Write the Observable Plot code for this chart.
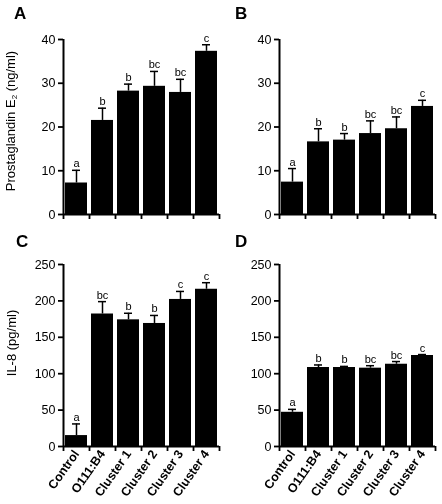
<!DOCTYPE html>
<html>
<head>
<meta charset="utf-8">
<script src="https://cdn.jsdelivr.net/npm/d3@7"></script>
<script src="https://cdn.jsdelivr.net/npm/@observablehq/plot@0.6"></script>
<style>
  html, body { margin: 0; padding: 0; background: white; }
  #root { position: relative; width: 442px; height: 504px; font-family: "Liberation Sans", Arial, sans-serif; color: black; }
  .panel { position: absolute; will-change: transform; }
  .letter { position: absolute; font-weight: bold; font-size: 17px; line-height: 1; }
  .ytitle { position: absolute; font-size: 13px; white-space: nowrap; transform: translate(-50%, -50%) rotate(-90deg); line-height: 1; }
  .ytitle sub { font-size: 8px; vertical-align: -2px; }
</style>
</head>
<body>
<div id="root"></div>
<script>
const categories = ["Control", "O111:B4", "Cluster 1", "Cluster 2", "Cluster 3", "Cluster 4"];

const pgeA = [7.2, 21.5, 28.2, 29.3, 27.9, 37.3];
const pgeAErr = [2.9, 2.8, 1.6, 3.4, 3.0, 1.5];
const pgeALetters = ["a", "b", "b", "bc", "bc", "c"];

const pgeB = [7.4, 16.6, 17.0, 18.5, 19.6, 24.7];
const pgeBErr = [3.1, 3.0, 1.5, 2.9, 2.7, 1.4];
const pgeBLetters = ["a", "b", "b", "bc", "bc", "c"];

const il8C = [15, 182, 174, 169, 202, 216];
const il8CErr = [16, 17, 9, 11, 11, 9];
const il8CLetters = ["a", "bc", "b", "b", "c", "c"];

const il8D = [47, 108.5, 108.5, 107.6, 113, 125];
const il8DErr = [4, 3.5, 1.5, 3.4, 3.7, 1.3];
const il8DLetters = ["a", "b", "b", "bc", "bc", "c"];

const pgeTicks = [0, 10, 20, 30, 40];
const il8Ticks = [0, 50, 100, 150, 200, 250];

function panel({values, errors, letters, yMax, ticks, showX, height, marginTop, marginBottom}) {
  const data = categories.map((c, i) => ({cat: c, value: values[i], top: values[i] + errors[i], letter: letters[i]}));
  const width = 221, marginLeft = 63, marginRight = 2;
  const step = (width - marginLeft - marginRight) / categories.length;
  const frameH = height - marginTop - marginBottom;
  const marks = [
    Plot.barY(data, {x: "cat", y: "value", fill: "black"}),
    Plot.ruleX(data, {x: "cat", y1: "value", y2: "top", stroke: "black", strokeWidth: 1.5}),
    Plot.tickY(data, {x: "cat", y: "top", insetLeft: 7, insetRight: 7, stroke: "black", strokeWidth: 1.5}),
    Plot.text(data, {x: "cat", y: "top", text: "letter", lineAnchor: "bottom", dy: -3, fontSize: 11, fill: "black"}),
    Plot.axisY({ticks, tickSize: 5, tickPadding: 3, fontSize: 12.5, strokeWidth: 1.8, fill: "black", label: null}),
    Plot.ruleX([categories[0]], {x: d => d, dx: -step / 2, y1: 0, y2: yMax, stroke: "black", strokeWidth: 2}),
    Plot.ruleY([0], {stroke: "black", strokeWidth: 2}),
    Plot.ruleX(categories, {x: d => d, dx: -step / 2, insetTop: frameH, insetBottom: -5, stroke: "black", strokeWidth: 1.8}),
    Plot.ruleX([categories[categories.length - 1]], {x: d => d, dx: step / 2, insetTop: frameH, insetBottom: -5, stroke: "black", strokeWidth: 1.8})
  ];
  if (showX) marks.push(Plot.axisX({tickSize: 0, tickPadding: 5, tickRotate: -55, fontSize: 12.5, fontWeight: "bold", fill: "black", label: null}));
  return Plot.plot({
    width, height, marginLeft, marginRight, marginTop, marginBottom,
    style: {fontFamily: "'Liberation Sans', Arial, sans-serif", background: "transparent", overflow: "visible", color: "black"},
    x: {domain: categories, paddingInner: 0.16, paddingOuter: 0.08, axis: null},
    y: {domain: [0, yMax], axis: null},
    marks
  });
}

const root = document.getElementById("root");
function place(el, left, top) {
  el.classList.add("panel");
  el.style.left = left + "px";
  el.style.top = top + "px";
  root.appendChild(el);
}
const topCfg = {height: 222, marginTop: 39, marginBottom: 8};
const botCfg = {height: 282, marginTop: 42, marginBottom: 58};
place(panel({values: pgeA, errors: pgeAErr, letters: pgeALetters, yMax: 40, ticks: pgeTicks, showX: false, ...topCfg}), 0, 0);
place(panel({values: pgeB, errors: pgeBErr, letters: pgeBLetters, yMax: 40, ticks: pgeTicks, showX: false, ...topCfg}), 216, 0);
place(panel({values: il8C, errors: il8CErr, letters: il8CLetters, yMax: 250, ticks: il8Ticks, showX: true, ...botCfg}), 0, 222);
place(panel({values: il8D, errors: il8DErr, letters: il8DLetters, yMax: 250, ticks: il8Ticks, showX: true, ...botCfg}), 216, 222);

function addDiv(cls, html, left, top) {
  const d = document.createElement("div");
  d.className = cls;
  d.innerHTML = html;
  d.style.left = left + "px";
  d.style.top = top + "px";
  root.appendChild(d);
}
addDiv("letter", "A", 14, 5);
addDiv("letter", "B", 235, 5);
addDiv("letter", "C", 16, 233);
addDiv("letter", "D", 235, 233);
addDiv("ytitle", "Prostaglandin E<sub>2</sub> (ng/ml)", 11, 121);
addDiv("ytitle", "IL-8 (pg/ml)", 11, 343);
</script>
</body>
</html>
